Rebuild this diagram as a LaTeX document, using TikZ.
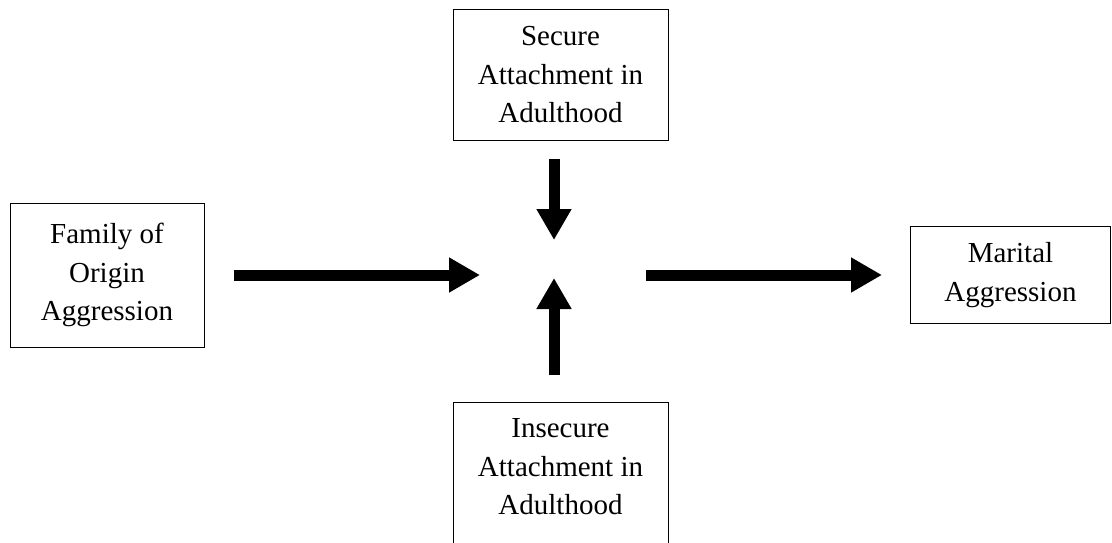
\documentclass[tikz,border=0pt]{standalone}
\usepackage{fontspec}
\setmainfont{Liberation Serif}
\usetikzlibrary{arrows.meta}
\begin{document}
\begin{tikzpicture}[x=1pt,y=-1pt,
  box/.style={draw, line width=1pt, align=center, inner sep=0pt,
    font=\fontsize{29}{38.5}\selectfont},
  fat/.style={line width=11pt, -{Triangle[length=31pt,width=33pt]}}]
\useasboundingbox (0,0) rectangle (1112,543);
\clip (0,0) rectangle (1112,543);
\coordinate (c) at (554,275);
\node[box, minimum width=194pt, minimum height=144pt] (fam) at (107,275) {Family of\\Origin\\Aggression};
\node[box, minimum width=215pt, minimum height=130pt] (sec) at (560.5,75) {Secure\\Attachment in\\Adulthood};
\node[box, minimum width=200pt, minimum height=97pt] (mar) at (1010.5,275) {Marital\\Aggression};
\node[box, minimum width=215pt, anchor=north, inner ysep=16pt, text height=96pt, text depth=160pt] (ins) at (560.5,402) {Insecure\\Attachment in\\Adulthood};
\draw[fat, shorten <=29pt, shorten >=74pt] (fam.east) -- (c);
\draw[fat, shorten <=92pt, shorten >=28pt] (c) -- (mar.west);
\draw[fat, shorten <=18pt, shorten >=35pt] (sec.south -| c) -- (c);
\draw[fat, shorten <=27pt, shorten >=3pt] (ins.north -| c) -- (c);
\end{tikzpicture}
\end{document}
